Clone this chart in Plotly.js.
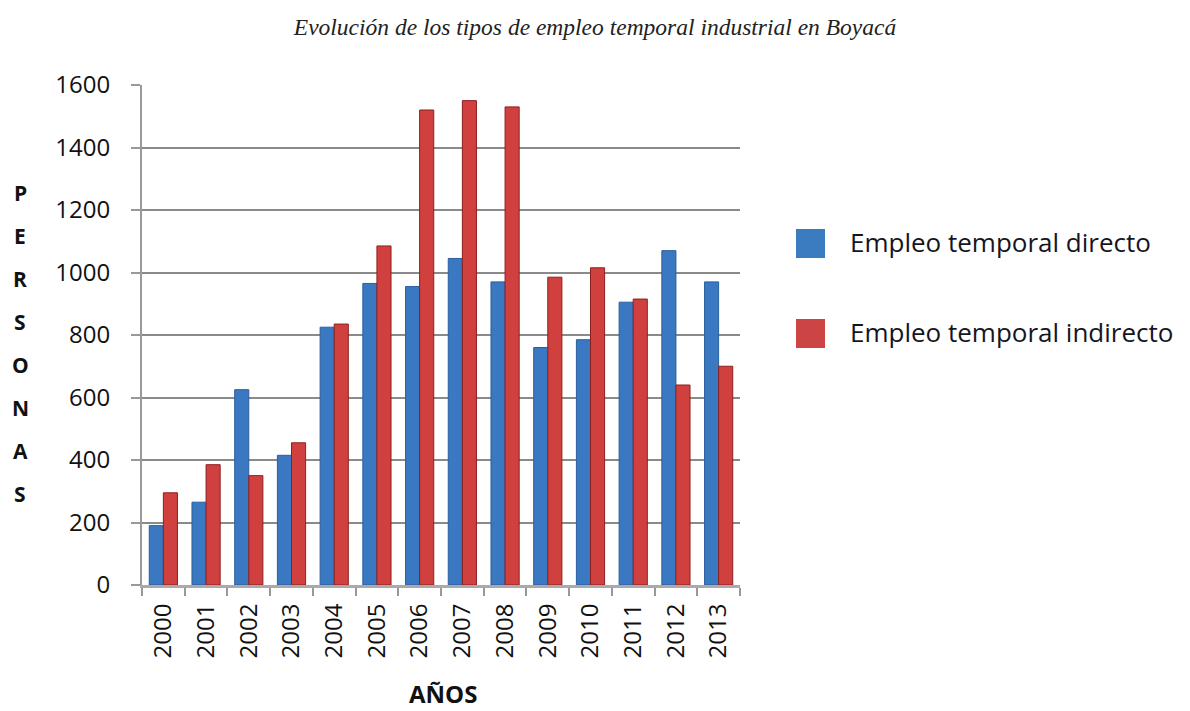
<!DOCTYPE html>
<html>
<head>
<meta charset="utf-8">
<script src="https://cdn.plot.ly/plotly-3.0.1.min.js"></script>
<style>html,body{margin:0;padding:0;background:#fff;}#chart{width:1190px;height:711px;}</style>
</head>
<body>
<div id="chart"></div>
<script>
const years = ["2000","2001","2002","2003","2004","2005","2006","2007","2008","2009","2010","2011","2012","2013"];
const directo = [190, 265, 625, 415, 825, 965, 955, 1045, 970, 760, 785, 905, 1070, 970];
const indirecto = [295, 385, 350, 455, 835, 1085, 1520, 1550, 1530, 985, 1015, 915, 640, 700];
const seriesNames = ["Empleo temporal directo", "Empleo temporal indirecto"];
const seriesColors = ["#3b7bbf", "#cd4444"];
const yTicks = [0, 200, 400, 600, 800, 1000, 1200, 1400, 1600];
const titleText = "Evolución de los tipos de empleo temporal industrial en Boyacá";
const yTitle = "PERSONAS";
const xTitle = "AÑOS";

const FONT = "Open Sans, Noto Sans, sans-serif";

const traces = [
  {type:"bar", x: years, y: directo, name: seriesNames[0], showlegend:false,
   marker:{color:"#3a78c2", line:{color:"#2a5f9e", width:1}}},
  {type:"bar", x: years, y: indirecto, name: seriesNames[1], showlegend:false,
   marker:{color:"#d0403e", line:{color:"#8e1f1f", width:1}}}
];

const annotations = [];
const shapes = [];
Array.from(yTitle).forEach((ch, i) => {
  annotations.push({xref:"paper", yref:"paper", x:-0.204, y:0.784 - i*0.086,
    text:"<b>"+ch+"</b>", showarrow:false, xanchor:"center", yanchor:"middle",
    font:{family:FONT, size:21, color:"#111"}});
});
annotations.push({xref:"paper", yref:"paper", x:0.503, y:-0.216, text:"<b>"+xTitle+"</b>",
  showarrow:false, xanchor:"center", yanchor:"middle",
  font:{family:FONT, size:24, color:"#111"}});

// legend (squares + labels)
seriesNames.forEach((nm, i) => {
  const yc = 0.683 - i*0.18;
  shapes.push({type:"rect", xref:"paper", yref:"paper", x0:1.0936, x1:1.1421,
    y0:yc-0.029, y1:yc+0.029, fillcolor:seriesColors[i], line:{width:0}});
  annotations.push({xref:"paper", yref:"paper", x:1.1806, y:yc+0.002, text:nm,
    showarrow:false, xanchor:"left", yanchor:"middle",
    font:{family:FONT, size:26, color:"#15151f"}});
});

const layout = {
  width:1190, height:711,
  paper_bgcolor:"#fff", plot_bgcolor:"#fff",
  margin:{l:142, r:450, t:85, b:126},
  title:{text: titleText, x:0.5, xanchor:"center", y:0.962, yanchor:"middle",
    font:{family:"Liberation Serif, serif", size:23.5, color:"#222", style:"italic"}},
  barmode:"group", bargap:0.34, bargroupgap:0,
  showlegend:false,
  xaxis:{type:"category", tickangle:-90, ticks:"outside", tickson:"boundaries", ticklen:8,
    tickcolor:"#999", tickwidth:2, showline:true, linecolor:"#aaa", linewidth:3,
    ticklabelstandoff:6,
    tickfont:{family:FONT, size:24, color:"#111"}, showgrid:false},
  yaxis:{range:[0,1600], tickvals: yTicks, showgrid:true, gridcolor:"#8a8a8a", gridwidth:2,
    showline:true, linecolor:"#999", linewidth:2, ticks:"outside", ticklen:9, tickcolor:"#999",
    tickwidth:2, zeroline:false, ticklabelstandoff:16,
    tickfont:{family:FONT, size:24, color:"#111"}},
  annotations: annotations,
  shapes: shapes
};

Plotly.newPlot("chart", traces, layout, {displayModeBar:false, staticPlot:true});
</script>
</body>
</html>
